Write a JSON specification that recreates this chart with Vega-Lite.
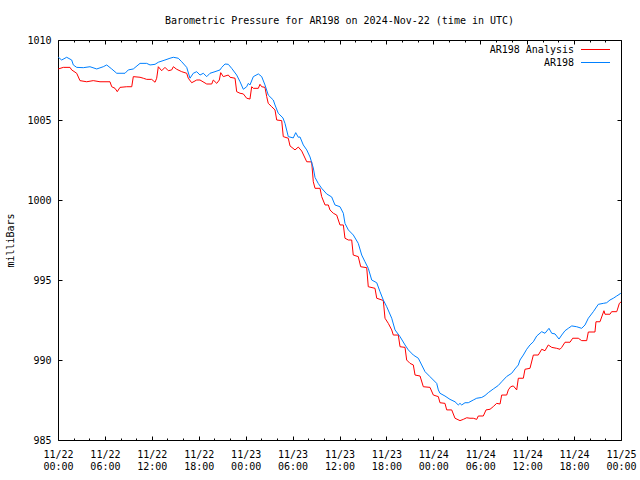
{
  "$schema": "https://vega.github.io/schema/vega-lite/v6.json",
  "width": 563,
  "height": 400,
  "autosize": {"type": "none"},
  "padding": {"left": 58, "top": 40, "right": 19, "bottom": 40},
  "background": "white",
  "title": {"text": "Barometric Pressure for AR198 on 2024-Nov-22 (time in UTC)", "font": "DejaVu Sans Mono", "fontSize": 10, "fontWeight": "normal", "color": "black", "offset": 9},
  "config": {
    "view": {"stroke": "black", "strokeWidth": 1},
    "axis": {"labelFont": "DejaVu Sans Mono", "labelFontSize": 10, "labelColor": "black", "titleFont": "DejaVu Sans Mono", "titleFontSize": 10, "titleFontWeight": "normal", "titleColor": "black", "tickColor": "black", "grid": false, "domain": false, "labelOverlap": false, "labelFlush": false, "labelBound": false}
  },
  "data": {"values": [
    {"series":"AR198","hours":0.04,"mb":1008.92},{"series":"AR198","hours":0.47,"mb":1008.75},{"series":"AR198","hours":1.11,"mb":1008.92},{"series":"AR198","hours":1.75,"mb":1008.75},{"series":"AR198","hours":1.96,"mb":1008.44},{"series":"AR198","hours":2.39,"mb":1008.29},{"series":"AR198","hours":3.24,"mb":1008.27},{"series":"AR198","hours":4.09,"mb":1008.33},{"series":"AR198","hours":4.95,"mb":1008.19},{"series":"AR198","hours":5.79,"mb":1008.33},{"series":"AR198","hours":6.23,"mb":1008.44},{"series":"AR198","hours":6.87,"mb":1008.19},{"series":"AR198","hours":7.51,"mb":1007.92},{"series":"AR198","hours":8.57,"mb":1007.92},{"series":"AR198","hours":8.99,"mb":1008.13},{"series":"AR198","hours":9.63,"mb":1008.19},{"series":"AR198","hours":10.49,"mb":1008.54},{"series":"AR198","hours":11.34,"mb":1008.54},{"series":"AR198","hours":11.77,"mb":1008.44},{"series":"AR198","hours":12.41,"mb":1008.48},{"series":"AR198","hours":12.83,"mb":1008.61},{"series":"AR198","hours":13.68,"mb":1008.75},{"series":"AR198","hours":14.32,"mb":1008.86},{"series":"AR198","hours":14.75,"mb":1008.92},{"series":"AR198","hours":15.38,"mb":1008.86},{"series":"AR198","hours":15.82,"mb":1008.64},{"series":"AR198","hours":16.46,"mb":1008.29},{"series":"AR198","hours":16.88,"mb":1007.61},{"series":"AR198","hours":17.3,"mb":1007.92},{"series":"AR198","hours":17.74,"mb":1008.02},{"series":"AR198","hours":18.16,"mb":1007.81},{"series":"AR198","hours":18.58,"mb":1007.92},{"series":"AR198","hours":19.02,"mb":1007.71},{"series":"AR198","hours":19.44,"mb":1007.92},{"series":"AR198","hours":20.08,"mb":1008.02},{"series":"AR198","hours":20.72,"mb":1008.13},{"series":"AR198","hours":20.94,"mb":1008.29},{"series":"AR198","hours":21.36,"mb":1008.5},{"series":"AR198","hours":21.78,"mb":1008.48},{"series":"AR198","hours":22.21,"mb":1008.23},{"series":"AR198","hours":22.85,"mb":1007.81},{"series":"AR198","hours":23.28,"mb":1007.39},{"series":"AR198","hours":23.7,"mb":1006.92},{"series":"AR198","hours":24.13,"mb":1007.08},{"series":"AR198","hours":24.34,"mb":1007.29},{"series":"AR198","hours":24.55,"mb":1007.19},{"series":"AR198","hours":24.98,"mb":1007.71},{"series":"AR198","hours":25.62,"mb":1007.88},{"series":"AR198","hours":26.05,"mb":1007.71},{"series":"AR198","hours":26.47,"mb":1007.19},{"series":"AR198","hours":26.89,"mb":1006.56},{"series":"AR198","hours":27.53,"mb":1006.25},{"series":"AR198","hours":27.75,"mb":1005.94},{"series":"AR198","hours":28.17,"mb":1005.42},{"series":"AR198","hours":28.77,"mb":1005.13},{"series":"AR198","hours":29.03,"mb":1004.79},{"series":"AR198","hours":29.45,"mb":1003.96},{"series":"AR198","hours":30.09,"mb":1003.88},{"series":"AR198","hours":30.4,"mb":1004.21},{"series":"AR198","hours":30.73,"mb":1003.92},{"series":"AR198","hours":30.95,"mb":1003.94},{"series":"AR198","hours":31.37,"mb":1003.44},{"series":"AR198","hours":31.81,"mb":1003.13},{"series":"AR198","hours":32.23,"mb":1002.69},{"series":"AR198","hours":32.65,"mb":1002.0},{"series":"AR198","hours":32.87,"mb":1001.41},{"series":"AR198","hours":33.29,"mb":1001.03},{"series":"AR198","hours":33.72,"mb":1000.73},{"series":"AR198","hours":34.36,"mb":1000.38},{"series":"AR198","hours":35.0,"mb":1000.19},{"series":"AR198","hours":35.42,"mb":999.69},{"series":"AR198","hours":36.06,"mb":999.58},{"series":"AR198","hours":36.49,"mb":999.17},{"series":"AR198","hours":36.7,"mb":998.54},{"series":"AR198","hours":37.13,"mb":998.13},{"series":"AR198","hours":37.77,"mb":997.81},{"series":"AR198","hours":38.4,"mb":997.29},{"series":"AR198","hours":38.84,"mb":996.56},{"series":"AR198","hours":39.26,"mb":996.14},{"series":"AR198","hours":39.68,"mb":995.73},{"series":"AR198","hours":40.12,"mb":995.0},{"series":"AR198","hours":40.76,"mb":994.83},{"series":"AR198","hours":41.18,"mb":994.27},{"series":"AR198","hours":41.6,"mb":993.75},{"series":"AR198","hours":42.04,"mb":993.33},{"series":"AR198","hours":42.68,"mb":992.61},{"series":"AR198","hours":43.1,"mb":991.88},{"series":"AR198","hours":43.74,"mb":991.46},{"series":"AR198","hours":44.38,"mb":990.94},{"series":"AR198","hours":44.8,"mb":990.63},{"series":"AR198","hours":45.44,"mb":990.31},{"series":"AR198","hours":46.08,"mb":990.11},{"series":"AR198","hours":46.51,"mb":989.69},{"series":"AR198","hours":46.94,"mb":989.27},{"series":"AR198","hours":47.57,"mb":988.96},{"series":"AR198","hours":48.0,"mb":988.75},{"series":"AR198","hours":48.43,"mb":988.54},{"series":"AR198","hours":48.64,"mb":988.13},{"series":"AR198","hours":48.85,"mb":987.92},{"series":"AR198","hours":49.49,"mb":987.75},{"series":"AR198","hours":50.13,"mb":987.54},{"series":"AR198","hours":50.77,"mb":987.39},{"series":"AR198","hours":51.19,"mb":987.19},{"series":"AR198","hours":51.41,"mb":987.29},{"series":"AR198","hours":51.63,"mb":987.19},{"series":"AR198","hours":52.05,"mb":987.33},{"series":"AR198","hours":52.47,"mb":987.33},{"series":"AR198","hours":53.11,"mb":987.5},{"series":"AR198","hours":53.55,"mb":987.61},{"series":"AR198","hours":54.19,"mb":987.66},{"series":"AR198","hours":54.61,"mb":987.78},{"series":"AR198","hours":55.03,"mb":987.96},{"series":"AR198","hours":55.67,"mb":988.19},{"series":"AR198","hours":56.31,"mb":988.41},{"series":"AR198","hours":56.74,"mb":988.64},{"series":"AR198","hours":57.38,"mb":988.97},{"series":"AR198","hours":58.02,"mb":989.17},{"series":"AR198","hours":58.44,"mb":989.44},{"series":"AR198","hours":58.87,"mb":989.69},{"series":"AR198","hours":59.08,"mb":990.0},{"series":"AR198","hours":59.51,"mb":990.31},{"series":"AR198","hours":59.94,"mb":990.67},{"series":"AR198","hours":60.36,"mb":990.94},{"series":"AR198","hours":60.79,"mb":991.14},{"series":"AR198","hours":61.22,"mb":991.5},{"series":"AR198","hours":61.86,"mb":991.77},{"series":"AR198","hours":62.28,"mb":991.67},{"series":"AR198","hours":62.79,"mb":991.98},{"series":"AR198","hours":63.14,"mb":991.67},{"series":"AR198","hours":63.56,"mb":991.63},{"series":"AR198","hours":64.07,"mb":991.31},{"series":"AR198","hours":64.42,"mb":991.56},{"series":"AR198","hours":64.84,"mb":991.83},{"series":"AR198","hours":65.26,"mb":991.98},{"series":"AR198","hours":65.7,"mb":992.13},{"series":"AR198","hours":66.33,"mb":992.08},{"series":"AR198","hours":66.97,"mb":991.98},{"series":"AR198","hours":67.4,"mb":992.19},{"series":"AR198","hours":67.82,"mb":992.61},{"series":"AR198","hours":68.46,"mb":993.02},{"series":"AR198","hours":69.1,"mb":993.48},{"series":"AR198","hours":69.74,"mb":993.54},{"series":"AR198","hours":70.17,"mb":993.58},{"series":"AR198","hours":70.59,"mb":993.75},{"series":"AR198","hours":71.02,"mb":993.86},{"series":"AR198","hours":71.45,"mb":994.0},{"series":"AR198","hours":71.87,"mb":994.13},{"series":"AR198","hours":72.0,"mb":994.2},
    {"series":"AR198 Analysis","hours":0.04,"mb":1008.19},{"series":"AR198 Analysis","hours":0.68,"mb":1008.29},{"series":"AR198 Analysis","hours":1.53,"mb":1008.29},{"series":"AR198 Analysis","hours":1.75,"mb":1008.13},{"series":"AR198 Analysis","hours":2.39,"mb":1007.92},{"series":"AR198 Analysis","hours":2.81,"mb":1007.46},{"series":"AR198 Analysis","hours":3.67,"mb":1007.39},{"series":"AR198 Analysis","hours":4.51,"mb":1007.46},{"series":"AR198 Analysis","hours":5.37,"mb":1007.39},{"series":"AR198 Analysis","hours":6.65,"mb":1007.39},{"series":"AR198 Analysis","hours":6.87,"mb":1007.08},{"series":"AR198 Analysis","hours":7.29,"mb":1006.98},{"series":"AR198 Analysis","hours":7.58,"mb":1006.77},{"series":"AR198 Analysis","hours":7.93,"mb":1007.04},{"series":"AR198 Analysis","hours":8.79,"mb":1007.08},{"series":"AR198 Analysis","hours":9.43,"mb":1007.08},{"series":"AR198 Analysis","hours":9.63,"mb":1007.71},{"series":"AR198 Analysis","hours":10.49,"mb":1007.67},{"series":"AR198 Analysis","hours":10.91,"mb":1007.61},{"series":"AR198 Analysis","hours":11.34,"mb":1007.54},{"series":"AR198 Analysis","hours":11.98,"mb":1007.54},{"series":"AR198 Analysis","hours":12.41,"mb":1007.36},{"series":"AR198 Analysis","hours":12.62,"mb":1007.61},{"series":"AR198 Analysis","hours":12.83,"mb":1008.33},{"series":"AR198 Analysis","hours":13.26,"mb":1008.08},{"series":"AR198 Analysis","hours":13.68,"mb":1008.29},{"series":"AR198 Analysis","hours":14.11,"mb":1008.08},{"series":"AR198 Analysis","hours":14.54,"mb":1008.13},{"series":"AR198 Analysis","hours":14.75,"mb":1008.33},{"series":"AR198 Analysis","hours":15.18,"mb":1008.17},{"series":"AR198 Analysis","hours":15.82,"mb":1008.02},{"series":"AR198 Analysis","hours":16.46,"mb":1007.92},{"series":"AR198 Analysis","hours":16.66,"mb":1007.61},{"series":"AR198 Analysis","hours":17.1,"mb":1007.33},{"series":"AR198 Analysis","hours":17.74,"mb":1007.5},{"series":"AR198 Analysis","hours":18.16,"mb":1007.5},{"series":"AR198 Analysis","hours":19.02,"mb":1007.25},{"series":"AR198 Analysis","hours":19.66,"mb":1007.25},{"series":"AR198 Analysis","hours":19.86,"mb":1007.5},{"series":"AR198 Analysis","hours":20.3,"mb":1007.29},{"series":"AR198 Analysis","hours":20.63,"mb":1007.5},{"series":"AR198 Analysis","hours":20.81,"mb":1007.96},{"series":"AR198 Analysis","hours":21.14,"mb":1007.71},{"series":"AR198 Analysis","hours":21.78,"mb":1007.81},{"series":"AR198 Analysis","hours":22.0,"mb":1007.67},{"series":"AR198 Analysis","hours":22.64,"mb":1007.61},{"series":"AR198 Analysis","hours":22.85,"mb":1006.77},{"series":"AR198 Analysis","hours":23.28,"mb":1006.67},{"series":"AR198 Analysis","hours":23.7,"mb":1006.63},{"series":"AR198 Analysis","hours":24.13,"mb":1006.36},{"series":"AR198 Analysis","hours":24.55,"mb":1006.31},{"series":"AR198 Analysis","hours":24.77,"mb":1007.08},{"series":"AR198 Analysis","hours":24.98,"mb":1006.98},{"series":"AR198 Analysis","hours":25.62,"mb":1006.98},{"series":"AR198 Analysis","hours":25.83,"mb":1007.23},{"series":"AR198 Analysis","hours":26.05,"mb":1007.08},{"series":"AR198 Analysis","hours":26.47,"mb":1007.04},{"series":"AR198 Analysis","hours":26.69,"mb":1006.46},{"series":"AR198 Analysis","hours":26.89,"mb":1006.04},{"series":"AR198 Analysis","hours":27.33,"mb":1005.83},{"series":"AR198 Analysis","hours":27.75,"mb":1005.63},{"series":"AR198 Analysis","hours":27.97,"mb":1005.0},{"series":"AR198 Analysis","hours":28.61,"mb":1004.96},{"series":"AR198 Analysis","hours":28.81,"mb":1003.96},{"series":"AR198 Analysis","hours":29.45,"mb":1003.86},{"series":"AR198 Analysis","hours":29.67,"mb":1003.38},{"series":"AR198 Analysis","hours":30.31,"mb":1003.13},{"series":"AR198 Analysis","hours":30.73,"mb":1003.31},{"series":"AR198 Analysis","hours":31.17,"mb":1003.06},{"series":"AR198 Analysis","hours":31.81,"mb":1002.39},{"series":"AR198 Analysis","hours":32.44,"mb":1002.38},{"series":"AR198 Analysis","hours":32.65,"mb":1001.14},{"series":"AR198 Analysis","hours":32.87,"mb":1000.73},{"series":"AR198 Analysis","hours":33.51,"mb":1000.73},{"series":"AR198 Analysis","hours":33.72,"mb":1000.21},{"series":"AR198 Analysis","hours":34.15,"mb":999.69},{"series":"AR198 Analysis","hours":34.57,"mb":999.69},{"series":"AR198 Analysis","hours":34.78,"mb":999.38},{"series":"AR198 Analysis","hours":35.21,"mb":999.17},{"series":"AR198 Analysis","hours":35.64,"mb":999.06},{"series":"AR198 Analysis","hours":35.85,"mb":998.75},{"series":"AR198 Analysis","hours":36.06,"mb":998.44},{"series":"AR198 Analysis","hours":36.49,"mb":998.44},{"series":"AR198 Analysis","hours":36.7,"mb":997.61},{"series":"AR198 Analysis","hours":37.13,"mb":997.5},{"series":"AR198 Analysis","hours":37.56,"mb":997.5},{"series":"AR198 Analysis","hours":37.76,"mb":996.56},{"series":"AR198 Analysis","hours":38.4,"mb":996.46},{"series":"AR198 Analysis","hours":38.71,"mb":995.83},{"series":"AR198 Analysis","hours":39.48,"mb":995.77},{"series":"AR198 Analysis","hours":39.68,"mb":994.58},{"series":"AR198 Analysis","hours":40.54,"mb":994.48},{"series":"AR198 Analysis","hours":40.76,"mb":993.86},{"series":"AR198 Analysis","hours":41.6,"mb":993.72},{"series":"AR198 Analysis","hours":41.82,"mb":992.61},{"series":"AR198 Analysis","hours":42.24,"mb":992.29},{"series":"AR198 Analysis","hours":42.68,"mb":991.88},{"series":"AR198 Analysis","hours":42.88,"mb":991.56},{"series":"AR198 Analysis","hours":43.52,"mb":991.56},{"series":"AR198 Analysis","hours":43.74,"mb":990.83},{"series":"AR198 Analysis","hours":44.38,"mb":990.79},{"series":"AR198 Analysis","hours":44.59,"mb":990.0},{"series":"AR198 Analysis","hours":45.02,"mb":989.79},{"series":"AR198 Analysis","hours":45.44,"mb":989.69},{"series":"AR198 Analysis","hours":45.66,"mb":989.06},{"series":"AR198 Analysis","hours":46.3,"mb":989.0},{"series":"AR198 Analysis","hours":46.72,"mb":988.33},{"series":"AR198 Analysis","hours":47.57,"mb":988.29},{"series":"AR198 Analysis","hours":48.0,"mb":987.81},{"series":"AR198 Analysis","hours":48.64,"mb":987.71},{"series":"AR198 Analysis","hours":48.85,"mb":987.33},{"series":"AR198 Analysis","hours":49.49,"mb":987.29},{"series":"AR198 Analysis","hours":49.71,"mb":986.88},{"series":"AR198 Analysis","hours":50.35,"mb":986.88},{"series":"AR198 Analysis","hours":50.77,"mb":986.36},{"series":"AR198 Analysis","hours":51.41,"mb":986.21},{"series":"AR198 Analysis","hours":51.83,"mb":986.29},{"series":"AR198 Analysis","hours":52.27,"mb":986.39},{"series":"AR198 Analysis","hours":52.69,"mb":986.36},{"series":"AR198 Analysis","hours":53.11,"mb":986.36},{"series":"AR198 Analysis","hours":53.55,"mb":986.29},{"series":"AR198 Analysis","hours":53.75,"mb":986.5},{"series":"AR198 Analysis","hours":54.39,"mb":986.5},{"series":"AR198 Analysis","hours":54.74,"mb":986.88},{"series":"AR198 Analysis","hours":55.25,"mb":986.92},{"series":"AR198 Analysis","hours":55.67,"mb":987.09},{"series":"AR198 Analysis","hours":56.1,"mb":987.29},{"series":"AR198 Analysis","hours":56.53,"mb":987.25},{"series":"AR198 Analysis","hours":56.74,"mb":987.81},{"series":"AR198 Analysis","hours":57.38,"mb":987.81},{"series":"AR198 Analysis","hours":57.59,"mb":988.13},{"series":"AR198 Analysis","hours":57.89,"mb":988.33},{"series":"AR198 Analysis","hours":58.23,"mb":988.38},{"series":"AR198 Analysis","hours":58.66,"mb":988.13},{"series":"AR198 Analysis","hours":58.87,"mb":988.86},{"series":"AR198 Analysis","hours":59.51,"mb":988.86},{"series":"AR198 Analysis","hours":59.72,"mb":989.42},{"series":"AR198 Analysis","hours":60.36,"mb":989.48},{"series":"AR198 Analysis","hours":60.79,"mb":990.31},{"series":"AR198 Analysis","hours":61.42,"mb":990.31},{"series":"AR198 Analysis","hours":61.86,"mb":990.67},{"series":"AR198 Analysis","hours":62.28,"mb":990.58},{"series":"AR198 Analysis","hours":62.7,"mb":990.94},{"series":"AR198 Analysis","hours":63.14,"mb":990.79},{"series":"AR198 Analysis","hours":63.77,"mb":990.73},{"series":"AR198 Analysis","hours":64.2,"mb":990.67},{"series":"AR198 Analysis","hours":64.42,"mb":990.79},{"series":"AR198 Analysis","hours":64.84,"mb":991.11},{"series":"AR198 Analysis","hours":65.48,"mb":991.11},{"series":"AR198 Analysis","hours":65.82,"mb":991.36},{"series":"AR198 Analysis","hours":66.54,"mb":991.36},{"series":"AR198 Analysis","hours":66.97,"mb":991.21},{"series":"AR198 Analysis","hours":67.61,"mb":991.21},{"series":"AR198 Analysis","hours":67.82,"mb":991.75},{"series":"AR198 Analysis","hours":68.67,"mb":991.75},{"series":"AR198 Analysis","hours":68.8,"mb":992.39},{"series":"AR198 Analysis","hours":69.31,"mb":992.39},{"series":"AR198 Analysis","hours":69.82,"mb":993.08},{"series":"AR198 Analysis","hours":69.95,"mb":992.86},{"series":"AR198 Analysis","hours":70.59,"mb":992.86},{"series":"AR198 Analysis","hours":70.8,"mb":993.02},{"series":"AR198 Analysis","hours":71.45,"mb":993.02},{"series":"AR198 Analysis","hours":71.53,"mb":993.13},{"series":"AR198 Analysis","hours":71.79,"mb":993.54},{"series":"AR198 Analysis","hours":72.0,"mb":993.63}
  ]},
  "layer": [
    {
      "transform": [{"filter": "datum.series == 'AR198 Analysis'"}],
      "mark": {"type": "line", "strokeWidth": 1, "clip": true},
      "encoding": {
        "x": {"field": "hours", "type": "quantitative", "scale": {"domain": [0, 72], "nice": false, "zero": false},
          "axis": {"orient": "bottom", "title": null, "values": [0,2,4,6,8,10,12,14,16,18,20,22,24,26,28,30,32,34,36,38,40,42,44,46,48,50,52,54,56,58,60,62,64,66,68,70,72],
            "tickSize": {"condition": {"test": "datum.value % 6 == 0", "value": -4}, "value": -2},
            "labelExpr": "datum.value % 6 == 0 ? ['11/' + (22 + floor(datum.value / 24)), (datum.value % 24 < 10 ? '0' : '') + (datum.value % 24) + ':00'] : ''",
            "labelBaseline": "top", "labelLineHeight": 12, "labelPadding": 13, "labelAlign": "center"}},
        "y": {"field": "mb", "type": "quantitative", "scale": {"domain": [985, 1010], "nice": false, "zero": false},
          "axis": {"orient": "left", "title": "milliBars", "format": "d", "values": [985, 990, 995, 1000, 1005, 1010], "tickSize": -4, "labelPadding": 11, "titlePadding": 11}},
        "color": {"field": "series", "type": "nominal",
          "scale": {"domain": ["AR198 Analysis", "AR198"], "range": ["#ff0000", "#0080ff"]},
          "legend": {"title": null, "orient": "none", "legendX": 532, "legendY": 4, "symbolType": "M-2.9,0H2.9", "symbolSize": 100, "symbolStrokeWidth": 1, "labelOffset": -27, "labelAlign": "right", "labelFont": "DejaVu Sans Mono", "labelFontSize": 10, "labelColor": "black", "padding": 0, "rowPadding": 2}}
      }
    },
    {
      "transform": [{"filter": "datum.series == 'AR198'"}],
      "mark": {"type": "line", "strokeWidth": 1, "clip": true},
      "encoding": {
        "x": {"field": "hours", "type": "quantitative",
          "axis": {"orient": "top", "title": null, "labels": false, "values": [0,2,4,6,8,10,12,14,16,18,20,22,24,26,28,30,32,34,36,38,40,42,44,46,48,50,52,54,56,58,60,62,64,66,68,70,72],
            "tickSize": {"condition": {"test": "datum.value % 6 == 0", "value": -4}, "value": -2}}},
        "y": {"field": "mb", "type": "quantitative",
          "axis": {"orient": "right", "title": null, "labels": false, "values": [985, 990, 995, 1000, 1005, 1010], "tickSize": -4}},
        "color": {"field": "series", "type": "nominal"}
      }
    }
  ],
  "resolve": {"axis": {"x": "independent", "y": "independent"}}
}
